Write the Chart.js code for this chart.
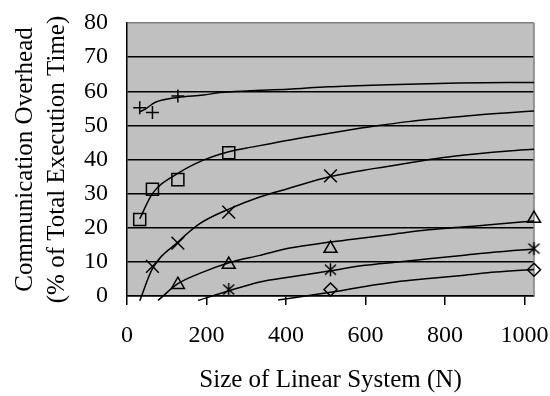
<!DOCTYPE html>
<html>
<head>
<meta charset="utf-8">
<script src="https://cdn.jsdelivr.net/npm/chart.js@4"></script>
<style>
  html, body { margin: 0; padding: 0; background: #fff; }
  #wrap { width: 550px; height: 396px; }
</style>
</head>
<body>
<div id="wrap"><canvas id="overheadChart"></canvas></div>
<script>
// matrix sizes N
const sizes = [32, 64, 128, 256, 512, 1024];

// measured overhead (%), one list per marker series
const plusVals     = [55.2, 53.8, 58.6, null, null, null];
const squareVals   = [22.4, 31.3, 34.1, 42.0, null, null];
const crossVals    = [null, 8.7, 15.5, 24.6, 35.2, null];
const triangleVals = [null, null, 3.3, 9.2, 13.9, 22.7];
const starVals     = [null, null, null, 1.9, 7.7, 13.9];
const diamondVals  = [null, null, null, null, 1.9, 7.7];

// trend lines
const plusTrendX = [32, 45, 70, 128, 192, 234, 301, 405, 506, 657, 834, 1024];
const plusTrendY = [54.0, 54.7, 56.7, 58.2, 58.9, 59.6, 60.1, 60.6, 61.3, 61.9, 62.4, 62.6];
const squareTrendX = [32, 64, 128, 192, 256, 317, 372, 456, 540, 624, 708, 792, 876, 960, 1024];
const squareTrendY = [22.6, 30.0, 35.9, 39.8, 42.3, 43.7, 44.9, 46.7, 48.3, 49.8, 51.1, 52.1, 53.0, 53.7, 54.2];
const crossTrendX = [32, 64, 128, 183, 259, 334, 406, 512, 624, 708, 792, 876, 960, 1024];
const crossTrendY = [-1.4, 8.0, 15.8, 21.2, 25.6, 29.0, 31.5, 35.0, 37.4, 39.0, 40.5, 41.6, 42.5, 43.0];
const triTrendX = [78, 128, 191, 259, 334, 406, 517, 599, 675, 759, 843, 927, 1024];
const triTrendY = [-1.3, 3.6, 7.0, 9.8, 11.9, 14.0, 15.9, 17.1, 18.2, 19.4, 20.2, 21.0, 22.0];
const starTrendX = [179, 259, 334, 406, 512, 599, 675, 759, 843, 927, 1024];
const starTrendY = [-1.3, 1.6, 4.1, 5.5, 7.4, 9.0, 9.9, 10.9, 11.9, 12.9, 13.8];
const diamondTrendX = [380, 512, 599, 675, 759, 843, 927, 1024];
const diamondTrendY = [-1.2, 1.1, 2.8, 4.1, 5.1, 6.0, 7.0, 7.8];

const xTicks = [0, 200, 400, 600, 800, 1000];

const toPoints = (xs, ys) => xs.map((x, i) => ({ x: x, y: ys[i] })).filter(p => p.y !== null);

// asterisk marker (vertical bar + two diagonals)
function asterisk() {
    const c = document.createElement('canvas');
    c.width = 15; c.height = 15;
    const g = c.getContext('2d');
    g.strokeStyle = '#000';
    g.lineWidth = 1.5;
    g.beginPath();
    g.moveTo(7.5, 1); g.lineTo(7.5, 14);
    g.moveTo(2, 2.5); g.lineTo(13, 12.5);
    g.moveTo(13, 2.5); g.lineTo(2, 12.5);
    g.stroke();
    return c;
}

function markers(vals, style, radius) {
    return {
        data: toPoints(sizes, vals),
        showLine: false,
        pointStyle: style,
        pointRadius: radius,
        borderColor: '#000',
        backgroundColor: 'rgba(0,0,0,0)',
        borderWidth: 1.5,
        clip: false,
        order: 0
    };
}

function trend(xs, ys) {
    return {
        data: toPoints(xs, ys),
        showLine: true,
        pointRadius: 0,
        borderColor: '#000',
        borderWidth: 1.5,
        cubicInterpolationMode: 'monotone',
        clip: { left: 0, top: 0, right: 2, bottom: 5 },
        order: 1
    };
}

const plotBg = {
    id: 'plotBg',
    beforeDraw(chart) {
        const { ctx, chartArea: a } = chart;
        ctx.save();
        ctx.fillStyle = '#fff';
        ctx.fillRect(0, 0, chart.width, chart.height);
        ctx.fillStyle = '#c0c0c0';
        ctx.fillRect(a.left, a.top, a.right - a.left, a.bottom - a.top);
        ctx.restore();
    },
    beforeDatasetsDraw(chart) {
        const { ctx, chartArea: a } = chart;
        ctx.save();
        ctx.strokeStyle = '#808080';
        ctx.lineWidth = 1.5;
        ctx.beginPath();
        ctx.moveTo(a.right, a.top);
        ctx.lineTo(a.right, a.bottom);
        ctx.stroke();
        ctx.restore();
    }
};

const font = 'Liberation Serif';

new Chart(document.getElementById('overheadChart'), {
    type: 'scatter',
    data: {
        datasets: [
            trend(plusTrendX, plusTrendY),
            trend(squareTrendX, squareTrendY),
            trend(crossTrendX, crossTrendY),
            trend(triTrendX, triTrendY),
            trend(starTrendX, starTrendY),
            trend(diamondTrendX, diamondTrendY),
            markers(plusVals, 'cross', 6.5),
            markers(squareVals, 'rect', 8.5),
            markers(crossVals, 'crossRot', 9),
            markers(triangleVals, 'triangle', 7.5),
            markers(starVals, asterisk(), 7),
            markers(diamondVals, 'rectRot', 6.5)
        ]
    },
    options: {
        responsive: true,
        maintainAspectRatio: false,
        animation: false,
        layout: { padding: { left: 0, right: 16, top: 23, bottom: 3 } },
        plugins: {
            legend: { display: false },
            tooltip: { enabled: false }
        },
        scales: {
            x: {
                type: 'linear',
                min: 0,
                max: 1024,
                afterBuildTicks: axis => { axis.ticks = xTicks.map(v => ({ value: v })); },
                afterFit: axis => { axis.paddingLeft = 0; axis.paddingRight = 0; },
                ticks: {
                    color: '#000',
                    font: { family: font, size: 24, lineHeight: 1.0 },
                    padding: 19,
                    maxRotation: 0,
                    autoSkip: false,
                    callback: v => String(v)
                },
                grid: { drawOnChartArea: false, drawTicks: true, tickLength: 9, color: '#000', lineWidth: 1.5 },
                border: { display: true, color: '#000', width: 1.5 },
                title: {
                    display: true,
                    text: 'Size of Linear System (N)',
                    color: '#000',
                    font: { family: font, size: 25, lineHeight: 1.04 },
                    padding: { top: 0, bottom: 0 }
                }
            },
            y: {
                min: 0,
                max: 80,
                afterFit: axis => { axis.paddingTop = 0; axis.paddingBottom = 0; },
                ticks: {
                    stepSize: 10,
                    autoSkip: false,
                    color: '#000',
                    font: { family: font, size: 24 },
                    padding: 0
                },
                grid: {
                    drawTicks: true,
                    tickLength: 19,
                    tickColor: 'rgba(0,0,0,0)',
                    color: ctx => ctx.tick && ctx.tick.value === 80 ? '#808080' : '#000',
                    lineWidth: 1.5
                },
                border: { display: true, color: '#000', width: 1.5 },
                title: {
                    display: true,
                    text: ['Communication Overhead', '(% of Total Execution Time)'],
                    color: '#000',
                    font: { family: font, size: 25, lineHeight: 1.28 },
                    padding: { top: 9, bottom: 11 }
                }
            }
        }
    },
    plugins: [plotBg]
});
</script>
</body>
</html>
